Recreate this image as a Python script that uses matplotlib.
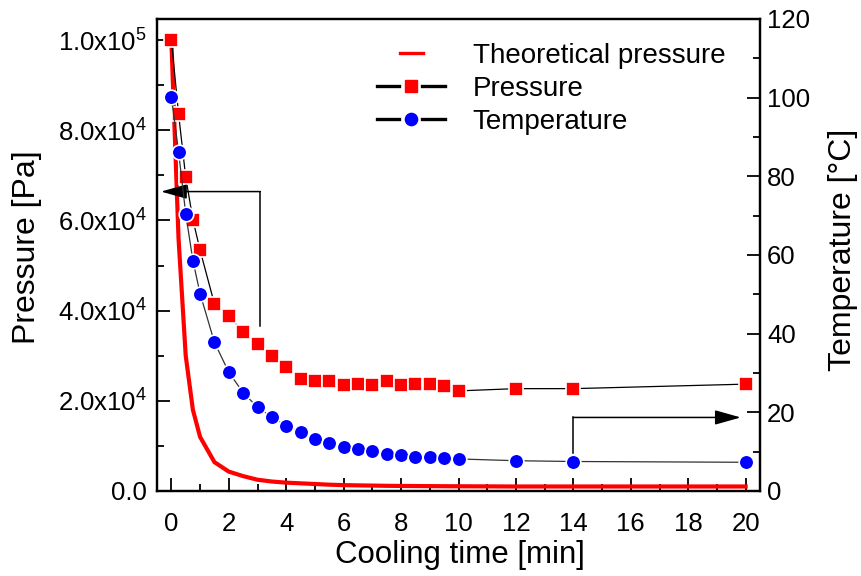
import matplotlib
matplotlib.use('Agg')
from matplotlib import pyplot as plt
from matplotlib.lines import Line2D
from matplotlib.legend_handler import HandlerBase
from matplotlib.ticker import MultipleLocator, FixedLocator, FixedFormatter

plt.rcParams['font.family'] = ['Liberation Sans', 'DejaVu Sans']
plt.rcParams['mathtext.fontset'] = 'custom'
plt.rcParams['mathtext.rm'] = 'Liberation Sans'
plt.rcParams['mathtext.default'] = 'regular'

# ---------------------------------------------------------------------------
#   data
# ---------------------------------------------------------------------------
time_min = [0, 0.25, 0.5, 0.75, 1, 1.5, 2, 2.5, 3, 3.5, 4, 4.5, 5, 5.5, 6, 6.5,
            7, 7.5, 8, 8.5, 9, 9.5, 10, 12, 14, 20]
pressure_pa = [100000, 83700, 69600, 60200, 53400, 41500, 38900, 35300, 32600,
               30000, 27500, 24900, 24300, 24300, 23400, 23700, 23400, 24300,
               23400, 23800, 23800, 23300, 22200, 22700, 22700, 23700]
temperature_c = [100.2, 86.3, 70.5, 58.6, 50.2, 37.8, 30.2, 25.0, 21.3, 18.8,
                 16.6, 14.9, 13.3, 12.1, 11.3, 10.8, 10.1, 9.4, 9.25, 8.7, 8.66,
                 8.5, 8.15, 7.7, 7.5, 7.3]
theory_pa = [100000, 56000, 30000, 18000, 12000, 6400, 4300, 3300, 2500, 2100,
             1850, 1700, 1550, 1400, 1300, 1250, 1200, 1150, 1120, 1100, 1080,
             1060, 1050, 1000, 1000, 1000]

p_ticks = [0, 20000, 40000, 60000, 80000, 100000]
p_tick_labels = ['0.0', '2.0x10$^{4}$', '4.0x10$^{4}$', '6.0x10$^{4}$',
                 '8.0x10$^{4}$', '1.0x10$^{5}$']
t_ticks = [0, 20, 40, 60, 80, 100, 120]
x_ticks = [0, 2, 4, 6, 8, 10, 12, 14, 16, 18, 20]


# ---------------------------------------------------------------------------
#   legend handlers (short red line, segments with a gap round the marker)
# ---------------------------------------------------------------------------
class ShortLineHandler(HandlerBase):
    def create_artists(self, legend, orig_handle, xdescent, ydescent, width,
                       height, fontsize, trans):
        y = height / 2 - ydescent
        x0 = -xdescent
        line = Line2D([x0 + 0.34 * width, x0 + 0.68 * width], [y, y],
                      color=orig_handle.get_color(),
                      lw=orig_handle.get_linewidth())
        line.set_transform(trans)
        return [line]


class GapLineHandler(HandlerBase):
    def create_artists(self, legend, orig_handle, xdescent, ydescent, width,
                       height, fontsize, trans):
        y = height / 2 - ydescent
        x0 = -xdescent
        lw = orig_handle.get_linewidth()
        left = Line2D([x0, x0 + 0.32 * width], [y, y], color='k', lw=lw)
        right = Line2D([x0 + 0.66 * width, x0 + width], [y, y], color='k', lw=lw)
        mark = Line2D([x0 + 0.5 * width], [y], ls='none',
                      marker=orig_handle.get_marker(),
                      mfc=orig_handle.get_markerfacecolor(),
                      mec=orig_handle.get_markerfacecolor(),
                      ms=orig_handle.get_markersize())
        for a in (left, right, mark):
            a.set_transform(trans)
        return [left, right, mark]


fig = plt.figure(figsize=(8.61, 5.76), dpi=100)
ax = fig.add_axes([157 / 861, 85 / 576, 603 / 861, 472 / 576])
ax2 = ax.twinx()

# theoretical curve
ax.plot(time_min, theory_pa, color='red', lw=3, zorder=2)
# measured pressure
ax.plot(time_min, pressure_pa, color='k', lw=0.9, marker='s', ms=9.8,
        mfc='red', mec='white', mew=1.2, zorder=3)
# temperature on the right axis
ax2.plot(time_min, temperature_c, color='#333333', lw=0.9, marker='o', ms=10.5,
         mfc='blue', mec='white', mew=1.2, zorder=3)

# arrows telling which axis belongs to which curve
ax.plot([3.1, 3.1], [36500, 66400], color='k', lw=1.1)
ax.annotate('', xy=(-0.36, 66400), xytext=(3.1, 66400),
            arrowprops=dict(arrowstyle='-|>,head_length=1.6,head_width=0.45',
                            mutation_scale=10, color='k', lw=1.1,
                            shrinkA=0, shrinkB=0))
ax2.plot([14, 14], [9.7, 18.7], color='k', lw=1.1)
ax2.annotate('', xy=(19.83, 18.7), xytext=(14, 18.7),
             arrowprops=dict(arrowstyle='-|>,head_length=1.6,head_width=0.45',
                             mutation_scale=10, color='k', lw=1.1,
                             shrinkA=0, shrinkB=0))

# axes limits / ticks
ax.set_xlim(-0.5, 20.5)
ax.set_ylim(0, 104670)
ax2.set_ylim(0, 120)

ax.xaxis.set_major_locator(FixedLocator(x_ticks))
ax.xaxis.set_minor_locator(MultipleLocator(1))
ax.yaxis.set_major_locator(FixedLocator(p_ticks))
ax.yaxis.set_major_formatter(FixedFormatter(p_tick_labels))
ax.yaxis.set_minor_locator(MultipleLocator(10000))
ax2.yaxis.set_major_locator(FixedLocator(t_ticks))
ax2.yaxis.set_minor_locator(MultipleLocator(10))

ax.tick_params(axis='x', which='both', direction='in', top=False, labelsize=18.5,
               pad=15, width=1.3)
ax.tick_params(axis='y', which='both', direction='in', right=False, labelsize=18.5,
               pad=7, width=1.3)
ax2.tick_params(axis='y', which='both', direction='in', left=False, labelsize=18.5,
                pad=5, width=1.3)
for a in (ax, ax2):
    a.tick_params(which='major', length=9.5)
    a.tick_params(which='minor', length=5)
    for s in a.spines.values():
        s.set_linewidth(1.6)

ax.set_xlabel('Cooling time [min]', fontsize=22.5, va='center')
ax.xaxis.set_label_coords(0.502, -0.136)
ax.set_ylabel('Pressure [Pa]', fontsize=23, va='center')
ax.yaxis.set_label_coords(-0.216, 0.517)
ax2.set_ylabel('Temperature [°C]', fontsize=23, va='center', rotation=90)
ax2.yaxis.set_label_coords(1.137, 0.51)

# legend
h_theory = Line2D([], [], color='red', lw=2.4)
h_press = Line2D([], [], color='k', lw=2.4, marker='s', mfc='red', ms=8.5)
h_temp = Line2D([], [], color='k', lw=2.4, marker='o', mfc='blue', ms=8.8)
ax2.legend([h_theory, h_press, h_temp],
           ['Theoretical pressure', 'Pressure', 'Temperature'],
           handler_map={h_theory: ShortLineHandler(),
                        h_press: GapLineHandler(),
                        h_temp: GapLineHandler()},
           loc='upper left', bbox_to_anchor=(377 / 861, 1 - 43 / 576),
           bbox_transform=fig.transFigure, frameon=False, fontsize=20,
           borderpad=0, borderaxespad=0, handlelength=2.45,
           handletextpad=1.0, labelspacing=0.25)

plt.savefig('out.png', dpi=100)
